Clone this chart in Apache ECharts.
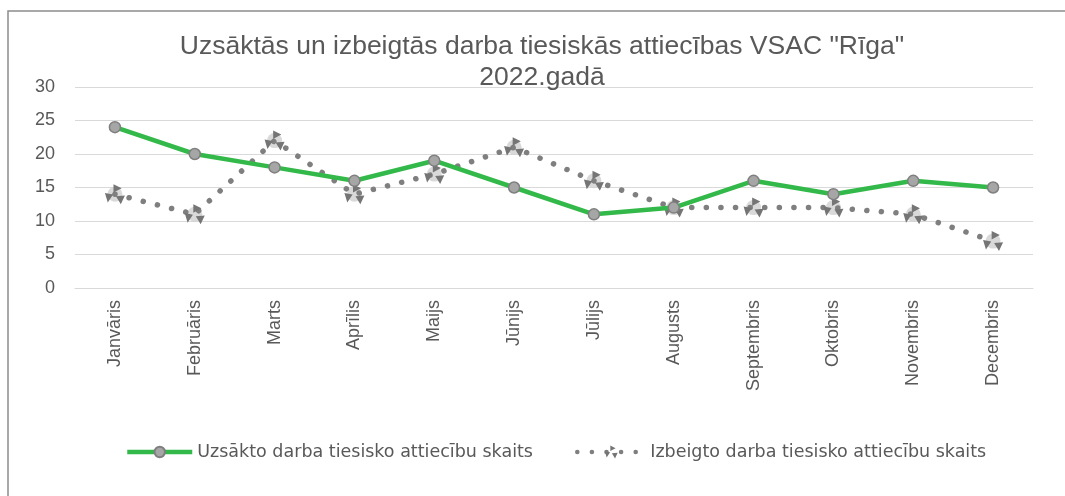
<!DOCTYPE html>
<html>
<head>
<meta charset="utf-8">
<script src="https://cdn.jsdelivr.net/npm/echarts@6/dist/echarts.min.js"></script>
<style>
  html, body { margin: 0; padding: 0; background: #fff; }
  #chart { width: 1065px; height: 496px; }
</style>
</head>
<body>
<div id="chart"></div>
<script>
// data
const months = ['Janvāris', 'Februāris', 'Marts', 'Aprīlis', 'Maijs', 'Jūnijs',
  'Jūlijs', 'Augusts', 'Septembris', 'Oktobris', 'Novembris', 'Decembris'];
const uzsakto = [24, 20, 18, 16, 19, 15, 11, 12, 16, 14, 16, 15];
const izbeigto = [14, 11, 22, 14, 17, 21, 16, 12, 12, 12, 11, 7];
const yTicks = [0, 5, 10, 15, 20, 25, 30];

const nameA = 'Uzsākto darba tiesisko attiecību skaits';
const nameB = 'Izbeigto darba tiesisko attiecību skaits';

// three little triangles, the excel marker
const trefoil = 'path://M42,0 L42,42 L82,20 Z M0,44 L40,52 L14,92 Z M54,60 L98,56 L78,100 Z';

const grey = '#595959';
const chart = echarts.init(document.getElementById('chart'));

const option = {
  backgroundColor: '#fff',
  animation: false,
  title: {
    text: 'Uzsāktās un izbeigtās darba tiesiskās attiecības VSAC "Rīga"\n2022.gadā',
    left: 537,
    textAlign: 'center',
    top: 26,
    textStyle: {
      fontFamily: 'Liberation Sans',
      fontSize: 26.5,
      fontWeight: 'normal',
      color: grey,
      lineHeight: 31
    }
  },
  graphic: [{
    type: 'rect',
    shape: { x: 8, y: 11, width: 1100, height: 600 },
    style: { fill: 'none', stroke: '#8c8c8c', lineWidth: 1.5 },
    silent: true
  }],
  legend: [
    {
      data: [nameA],
      left: 120,
      top: 438,
      itemWidth: 65,
      itemHeight: 13,
      lineStyle: { width: 4.5 },
      textStyle: { fontFamily: 'DejaVu Sans', fontSize: 17.5, color: grey }
    },
    {
      data: [nameB],
      left: 570,
      top: 438,
      itemWidth: 68,
      itemHeight: 16,
      lineStyle: { width: 4.5 },
      textStyle: { fontFamily: 'DejaVu Sans', fontSize: 17.5, color: grey }
    }
  ],
  grid: { left: 75, right: 32, top: 87, bottom: 208 },
  xAxis: {
    type: 'category',
    data: months,
    boundaryGap: true,
    axisLine: { lineStyle: { color: '#d9d9d9', width: 1 } },
    axisTick: { show: false },
    axisLabel: {
      rotate: 90,
      margin: 12,
      interval: 0,
      fontFamily: 'Liberation Sans',
      fontSize: 18,
      color: grey
    }
  },
  yAxis: {
    type: 'value',
    min: yTicks[0],
    max: yTicks[yTicks.length - 1],
    interval: yTicks[1] - yTicks[0],
    axisLine: { show: false },
    axisTick: { show: false },
    splitLine: { lineStyle: { color: '#d9d9d9', width: 1 } },
    axisLabel: {
      margin: 20,
      fontFamily: 'Liberation Sans',
      fontSize: 18,
      color: grey
    }
  },
  series: [
    {
      name: nameA,
      type: 'line',
      data: uzsakto,
      z: 4,
      symbol: 'circle',
      symbolSize: 11,
      lineStyle: { color: '#33b94a', width: 4.5 },
      itemStyle: { color: '#a6a6a6', borderColor: '#7f7f7f', borderWidth: 1.5 }
    },
    {
      // light disc behind the triangle marker
      name: 'bg',
      type: 'scatter',
      data: izbeigto,
      z: 2,
      silent: true,
      symbol: 'circle',
      symbolSize: 15,
      itemStyle: { color: '#d0d0d0' }
    },
    {
      name: nameB,
      type: 'line',
      data: izbeigto,
      z: 3,
      symbol: trefoil,
      symbolSize: 20,
      lineStyle: { color: '#7f7f7f', width: 5.5, type: [0.1, 14.5], cap: 'round' },
      itemStyle: { color: '#757575', borderWidth: 0 }
    }
  ]
};

chart.setOption(option);
</script>
</body>
</html>
